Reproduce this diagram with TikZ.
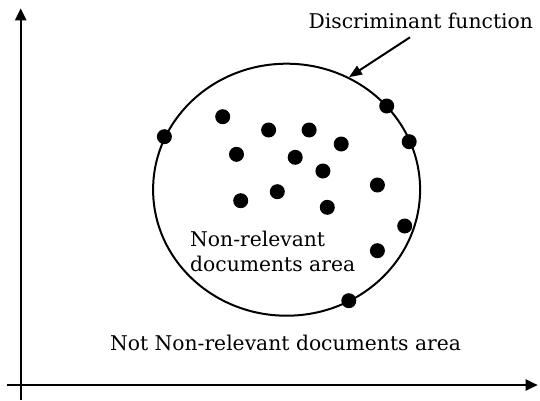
\documentclass[tikz,border=0pt]{standalone}
\usepackage{fontspec}
\setmainfont{DejaVu Serif}
\usetikzlibrary{arrows.meta,shapes.geometric}
\begin{document}
\begin{tikzpicture}[x=1pt,y=-1pt,
  axis/.style={line width=2.2pt,-{Triangle[length=12pt,width=11pt]}},
  pointer/.style={line width=2pt,-{Triangle[length=13pt,width=10pt]}},
  doc/.style={circle,fill=black,inner sep=0pt,minimum size=15pt},
  lbl/.style={font=\fontsize{20.3}{25}\selectfont,inner sep=0pt},
  region/.style={ellipse,draw,line width=2pt,minimum width=267pt,minimum height=252pt,inner sep=0pt}]
\useasboundingbox (0,0) rectangle (540,400);

% axes
\coordinate (ybot) at (20.7,400);
\coordinate (ytop) at (20.7,8.3);
\coordinate (xleft) at (6.7,385);
\coordinate (xright) at (537.7,385);
\draw[axis] (ybot) -- (ytop);
\draw[axis] (xleft) -- (xright);

% discriminant boundary
\node[region] (boundary) at (286.6,189.7) {};

% documents
\foreach \px/\py [count=\i] in {164.4/136.7, 222.7/116.7, 268.6/130, 309.1/130,
    341.2/144, 236.5/154.3, 295.2/157.3, 322.9/171, 386.7/106, 409.2/141.7,
    377.4/185, 240.7/200.7, 277.3/191.7, 327.3/207.3, 404.7/226, 377.4/250.7,
    348.8/300.7}
  \node[doc] (d\i) at (\px,\py) {};

% labels
\node[lbl,anchor=base] (disc) at (420.8,28.3) {Discriminant function};
\coordinate (ptail) at (410,37.3);
\draw[pointer] (ptail) -- (boundary.61.5);

% the base anchor of a two-line node sits on its last line
\node[lbl,anchor=base west,align=left] (inside) at (190,271.7)
  {Non-relevant\\documents area};
\node[lbl,anchor=base] (outside) at (285.5,350.5)
  {Not Non-relevant documents area};
\end{tikzpicture}
\end{document}
